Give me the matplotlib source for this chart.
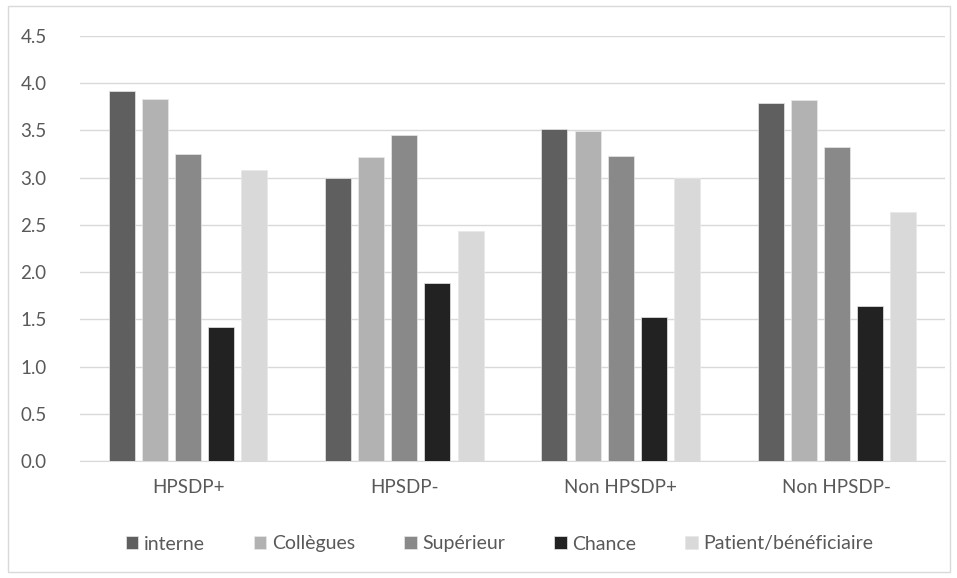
import matplotlib
matplotlib.use("Agg")
import matplotlib.pyplot as plt
import numpy as np
from matplotlib.patches import Rectangle

categories = ["HPSDP+", "HPSDP-", "Non HPSDP+", "Non HPSDP-"]
series_names = ["interne", "Collègues", "Supérieur", "Chance", "Patient/bénéficiaire"]
interne = [3.92, 3.00, 3.52, 3.79]
collegues = [3.83, 3.22, 3.49, 3.82]
superieur = [3.25, 3.45, 3.23, 3.33]
chance = [1.42, 1.89, 1.53, 1.64]
patient = [3.08, 2.44, 3.00, 2.64]
yticks = [0.0, 0.5, 1.0, 1.5, 2.0, 2.5, 3.0, 3.5, 4.0, 4.5]

series = [interne, collegues, superieur, chance, patient]
colors = ["#5f5f5f", "#b2b2b2", "#898989", "#222222", "#d9d9d9"]

plt.rcParams['font.family'] = ['Lato', 'DejaVu Sans']
fig = plt.figure(figsize=(9.57, 5.78), dpi=100)
fig.patches.append(Rectangle((8/957, 6/578), 942/957, 566/578, transform=fig.transFigure,
                             fill=False, edgecolor="#d9d9d9", linewidth=1))
ax = fig.add_axes([80/957, 1-461/578, 865/957, 425/578])

x = np.arange(len(categories))
step = 0.153
width = 0.12
for i, (vals, name, c) in enumerate(zip(series, series_names, colors)):
    ax.bar(x + (i - 2) * step, vals, width=width, color=c, label=name, zorder=3,
           edgecolor="#e8e8e8", linewidth=0.5)

ax.set_xlim(-0.5, len(categories) - 0.5)
ax.set_ylim(0, 4.5)
ax.set_yticks(yticks)
ax.set_yticklabels([f"{v:.1f}" for v in yticks])
ax.set_xticks(x)
ax.set_xticklabels(categories)
ax.grid(axis="y", color="#d9d9d9", linewidth=1, zorder=0)
for s in ["top", "right", "left"]:
    ax.spines[s].set_visible(False)
ax.spines["bottom"].set_color("#d9d9d9")
ax.tick_params(axis="both", length=0, labelsize=13.5, colors="#595959")
ax.tick_params(axis="x", pad=13)
ax.tick_params(axis="y", pad=24)

leg = fig.legend(loc="center", bbox_to_anchor=(0.522, 1-544/578), ncol=5, frameon=False,
                 fontsize=14, handlelength=0.65, handleheight=0.65, handletextpad=0.3,
                 columnspacing=2.5, labelcolor="#595959")
fig.savefig("out.png", dpi=100)
